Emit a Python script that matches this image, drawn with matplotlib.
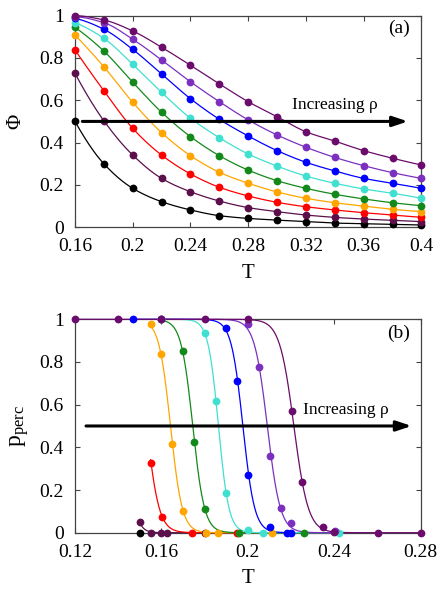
import numpy as np
import matplotlib
matplotlib.use("Agg")
import matplotlib.pyplot as plt

plt.rcParams['font.family'] = ['Liberation Serif', 'DejaVu Serif']
plt.rcParams['mathtext.fontset'] = 'custom'
plt.rcParams['mathtext.rm'] = 'Liberation Serif'
plt.rcParams['mathtext.it'] = 'Liberation Serif:italic'

# ---------------- data: panel (a) ----------------
T_a = [0.16, 0.18, 0.20, 0.22, 0.24, 0.26, 0.28, 0.30, 0.32, 0.34, 0.36, 0.38, 0.40]
phi_black = [0.500, 0.300, 0.184, 0.121, 0.082, 0.055, 0.042, 0.034, 0.027, 0.020, 0.017, 0.014, 0.011]
phi_plum = [0.727, 0.503, 0.341, 0.231, 0.168, 0.124, 0.093, 0.074, 0.058, 0.047, 0.039, 0.033, 0.027]
phi_red = [0.837, 0.645, 0.467, 0.341, 0.252, 0.189, 0.148, 0.118, 0.097, 0.082, 0.069, 0.058, 0.047]
phi_orange = [0.908, 0.758, 0.590, 0.447, 0.338, 0.260, 0.208, 0.167, 0.137, 0.116, 0.100, 0.085, 0.074]
phi_green = [0.944, 0.832, 0.685, 0.543, 0.428, 0.338, 0.270, 0.220, 0.184, 0.156, 0.134, 0.116, 0.102]
phi_turq = [0.966, 0.892, 0.770, 0.637, 0.515, 0.423, 0.346, 0.289, 0.242, 0.208, 0.181, 0.161, 0.137]
phi_blue = [0.987, 0.935, 0.840, 0.724, 0.607, 0.510, 0.431, 0.362, 0.307, 0.266, 0.231, 0.208, 0.184]
phi_violet = [0.994, 0.966, 0.888, 0.790, 0.687, 0.593, 0.507, 0.436, 0.378, 0.330, 0.291, 0.258, 0.231]
phi_dpurple = [1.000, 0.979, 0.927, 0.850, 0.765, 0.677, 0.593, 0.522, 0.451, 0.407, 0.362, 0.326, 0.294]

# ---------------- data: panel (b) ----------------
T_black = [0.15]
p_black = [0.0]
T_plum = [0.15, 0.155, 0.16, 0.1625, 0.18]
p_plum = [0.05, 0.0, 0.0, 0.0, 0.0]
T_red = [0.155, 0.1603, 0.174, 0.195]
p_red = [0.328, 0.075, 0.0, 0.0]
T_orange = [0.155, 0.16, 0.165, 0.1702, 0.1805, 0.186, 0.211]
p_orange = [0.980, 0.836, 0.416, 0.103, 0.0, 0.0, 0.0]
T_green = [0.16, 0.1698, 0.1752, 0.1801, 0.196, 0.226]
p_green = [1.0, 0.853, 0.427, 0.111, 0.0, 0.0]
T_turq = [0.16, 0.18, 0.1852, 0.19, 0.2001, 0.2068, 0.2423]
p_turq = [1.0, 0.937, 0.619, 0.188, 0.012, 0.0, 0.0]
T_blue = [0.147, 0.19, 0.1951, 0.2002, 0.2102, 0.2183, 0.2198]
p_blue = [1.0, 0.958, 0.711, 0.270, 0.027, 0.0, 0.0]
T_violet = [0.16, 0.20, 0.2053, 0.2102, 0.2152, 0.2200, 0.2403]
p_violet = [1.0, 0.978, 0.775, 0.359, 0.116, 0.045, 0.008]
T_dpurple = [0.12, 0.14, 0.16, 0.18, 0.20, 0.2203, 0.2249, 0.2350, 0.2400, 0.2604, 0.28]
p_dpurple = [1.0, 1.0, 1.0, 1.0, 1.0, 0.572, 0.236, 0.028, 0.005, 0.0, 0.0]

# logistic fit parameters (centre, width)
fit_Tc = [None, 0.1440, 0.1531, 0.1642, 0.1745, 0.1864, 0.1977, 0.2090, 0.2213]
fit_w = [None, 0.0020, 0.0029, 0.0027, 0.0027, 0.0024, 0.0027, 0.0030, 0.0033]

colors = ['#000000', '#5b0f4b', '#ff0000', '#ffa500', '#13891a',
          '#40e0d0', '#0000ff', '#7b30c0', '#6b0b6b']

xticks_a = [0.16, 0.20, 0.24, 0.28, 0.32, 0.36, 0.40]
xlabels_a = ['0.16', '0.2', '0.24', '0.28', '0.32', '0.36', '0.4']
xticks_b = [0.12, 0.16, 0.20, 0.24, 0.28]
xlabels_b = ['0.12', '0.16', '0.2', '0.24', '0.28']
yticks = [0, 0.2, 0.4, 0.6, 0.8, 1.0]
ylabels = ['0', '0.2', '0.4', '0.6', '0.8', '1']


def pchip(x, y, xs):
    x = np.asarray(x, float)
    y = np.asarray(y, float)
    h = np.diff(x)
    d = np.diff(y) / h
    n = len(x)
    m = np.zeros(n)
    for k in range(1, n - 1):
        if d[k - 1] * d[k] > 0:
            w1 = 2 * h[k] + h[k - 1]
            w2 = h[k] + 2 * h[k - 1]
            m[k] = (w1 + w2) / (w1 / d[k - 1] + w2 / d[k])
    def endslope(h0, h1, d0, d1):
        s = ((2 * h0 + h1) * d0 - h0 * d1) / (h0 + h1)
        if np.sign(s) != np.sign(d0):
            s = 0.0
        elif np.sign(d0) != np.sign(d1) and abs(s) > abs(3 * d0):
            s = 3 * d0
        return s
    m[0] = endslope(h[0], h[1], d[0], d[1])
    m[-1] = endslope(h[-1], h[-2], d[-1], d[-2])
    idx = np.clip(np.searchsorted(x, xs) - 1, 0, n - 2)
    t = (xs - x[idx]) / h[idx]
    h00 = 2 * t**3 - 3 * t**2 + 1
    h10 = t**3 - 2 * t**2 + t
    h01 = -2 * t**3 + 3 * t**2
    h11 = t**3 - t**2
    return (h00 * y[idx] + h10 * h[idx] * m[idx] + h01 * y[idx + 1]
            + h11 * h[idx] * m[idx + 1])


fig = plt.figure(figsize=(4.48, 5.99), dpi=100)
ax1 = fig.add_axes([0.1674, 0.6205, 0.7734, 0.3536])
ax2 = fig.add_axes([0.1674, 0.1107, 0.7717, 0.3563])

frame_col = '#444444'
for ax in (ax1, ax2):
    for s in ax.spines.values():
        s.set_color(frame_col)
        s.set_linewidth(0.9)
    ax.tick_params(direction='in', length=3.8, width=0.8, color=frame_col,
                   top=True, right=True, labelsize=14, pad=8)
    ax.set_yticks(yticks)
    ax.set_yticklabels(ylabels)
    ax.set_ylim(0, 1)

# ---- panel (a)
series_a = [phi_black, phi_plum, phi_red, phi_orange, phi_green,
            phi_turq, phi_blue, phi_violet, phi_dpurple]
Tfine = np.linspace(T_a[0], T_a[-1], 400)
for ys, c in zip(series_a, colors):
    ax1.plot(Tfine, pchip(T_a, ys, Tfine), '-', color=c, lw=0.9, zorder=3, clip_on=False)
    ax1.plot(T_a, ys, 'o', color=c, ms=5.6, mec='none', zorder=4, clip_on=False)

ax1.set_xlim(0.16, 0.40)
ax1.set_xticks(xticks_a)
ax1.set_xticklabels(xlabels_a)
ax1.set_xlabel('T', fontsize=15, labelpad=6)
ax1.set_ylabel('Φ', fontsize=15, labelpad=10)
ax1.annotate('', xy=(0.3906, 0.5), xytext=(0.1651, 0.5),
             arrowprops=dict(arrowstyle='-|>,head_length=0.9,head_width=0.3',
                             color='black', lw=2.2, shrinkA=0, shrinkB=0), zorder=5)
ax1.text(0.3102, 0.577, 'Increasing ρ', fontsize=12.5, ha='left', va='center')
ax1.text(0.392, 0.941, '(a)', fontsize=14, ha='right', va='center')

# ---- panel (b)
T_b = [T_black, T_plum, T_red, T_orange, T_green, T_turq, T_blue, T_violet, T_dpurple]
p_b = [p_black, p_plum, p_red, p_orange, p_green, p_turq, p_blue, p_violet, p_dpurple]
for Ts, ps, tc, w, c in zip(T_b, p_b, fit_Tc, fit_w, colors):
    if tc is not None:
        tf = np.linspace(min(Ts), max(Ts), 400)
        ax2.plot(tf, 1.0 / (1.0 + np.exp((tf - tc) / w)), '-', color=c, lw=0.9,
                 zorder=3, clip_on=False)
    ax2.plot(Ts, ps, 'o', color=c, ms=5.6, mec='none', zorder=4, clip_on=False)

ax2.set_xlim(0.12, 0.28)
ax2.set_xticks(xticks_b)
ax2.set_xticklabels(xlabels_b)
ax2.set_xlabel('T', fontsize=15, labelpad=6)
ax2.set_ylabel(r'$\mathrm{p}_{\mathrm{perc}}$', fontsize=17, labelpad=6)
ax2.annotate('', xy=(0.2758, 0.5), xytext=(0.1251, 0.5),
             arrowprops=dict(arrowstyle='-|>,head_length=0.9,head_width=0.3',
                             color='black', lw=2.2, shrinkA=0, shrinkB=0), zorder=5)
ax2.text(0.2254, 0.575, 'Increasing ρ', fontsize=12.5, ha='left', va='center')
ax2.text(0.275, 0.934, '(b)', fontsize=14, ha='right', va='center')

fig.savefig('out.png', dpi=100)
